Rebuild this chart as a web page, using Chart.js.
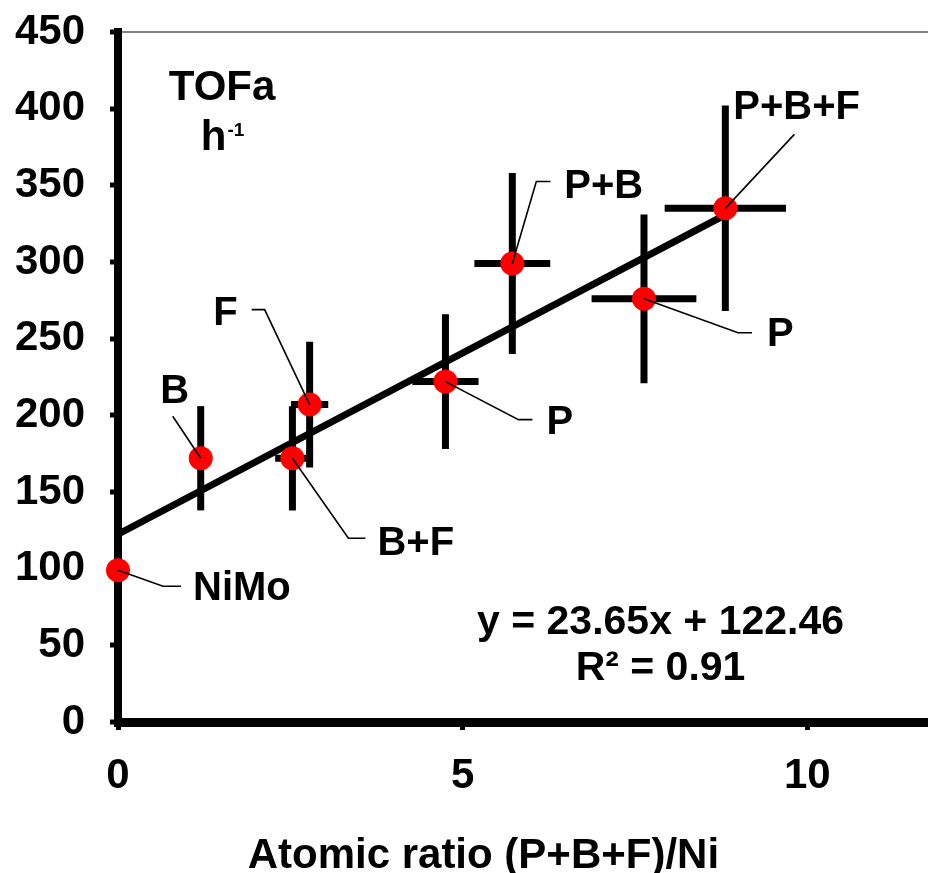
<!DOCTYPE html>
<html>
<head>
<meta charset="utf-8">
<title>TOFa vs atomic ratio</title>
<script src="https://cdn.jsdelivr.net/npm/chart.js@4.4.1/dist/chart.umd.min.js"></script>
<style>
  html, body { margin: 0; padding: 0; background: #fff; }
</style>
</head>
<body>
<canvas id="chart" width="928" height="873"></canvas>
<script>
// values
const sampleNames = ['NiMo', 'B', 'B+F', 'F', 'P', 'P+B', 'P', 'P+B+F'];
const atomicRatio = [0, 1.20, 2.53, 2.78, 4.75, 5.72, 7.63, 8.81];
const tofa = [99, 172, 172, 207, 222, 299, 276, 335];
const ratioError = [0, 0, 0.25, 0.27, 0.48, 0.55, 0.76, 0.88];
const tofaError = [0, 34, 34, 41, 44, 59, 55, 67];
const xTicks = [0, 5, 10];
const yTicks = [0, 50, 100, 150, 200, 250, 300, 350, 400, 450];
const fitSlope = 23.65;
const fitIntercept = 122.46;
const fitR2 = 0.91;
const fitRange = [0, 8.85];
const xTitle = 'Atomic ratio (P+B+F)/Ni';

const FONT = '"Liberation Sans", Arial, Helvetica, sans-serif';

// callout placement, pixel offsets from each point (same order as sampleNames)
const callouts = [
  { elbow: [45, 16], end: [63, 16], text: [75, 19], align: 'left' },
  { end: [-28, -42], text: [-26, -66], align: 'center' },
  { elbow: [56, 80], end: [73, 80], text: [85, 86], align: 'left' },
  { elbow: [-45, -95], end: [-58, -95], text: [-72, -91], align: 'right' },
  { elbow: [73, 38], end: [87, 38], text: [101, 41], align: 'left' },
  { elbow: [24, -82], end: [38, -82], text: [52, -77], align: 'left' },
  { elbow: [94, 34], end: [108, 34], text: [123, 36], align: 'left' },
  { end: [69, -74], text: [8, -100], align: 'left' }
];

const points = atomicRatio.map((r, i) => ({ x: r, y: tofa[i] }));
const fitLine = fitRange.map(r => ({ x: r, y: fitSlope * r + fitIntercept }));

const errorBars = {
  id: 'errorBars',
  beforeDatasetsDraw(chart) {
    const { ctx, scales: { x, y } } = chart;
    ctx.save();
    ctx.strokeStyle = '#000';
    ctx.lineWidth = 7;
    ctx.lineCap = 'butt';
    atomicRatio.forEach((r, i) => {
      const t = tofa[i];
      ctx.beginPath();
      if (tofaError[i] > 0) {
        ctx.moveTo(x.getPixelForValue(r), y.getPixelForValue(t - tofaError[i]));
        ctx.lineTo(x.getPixelForValue(r), y.getPixelForValue(t + tofaError[i]));
      }
      if (ratioError[i] > 0) {
        ctx.moveTo(x.getPixelForValue(r - ratioError[i]), y.getPixelForValue(t));
        ctx.lineTo(x.getPixelForValue(r + ratioError[i]), y.getPixelForValue(t));
      }
      ctx.stroke();
    });
    ctx.restore();
  }
};

const pointLabels = {
  id: 'pointLabels',
  afterDatasetsDraw(chart) {
    const { ctx } = chart;
    const meta = chart.getDatasetMeta(0);
    ctx.save();
    ctx.strokeStyle = '#000';
    ctx.fillStyle = '#000';
    ctx.lineWidth = 1.6;
    ctx.font = 'bold 40px ' + FONT;
    ctx.textBaseline = 'middle';
    meta.data.forEach((el, i) => {
      const c = callouts[i];
      ctx.beginPath();
      ctx.moveTo(el.x, el.y);
      if (c.elbow) ctx.lineTo(el.x + c.elbow[0], el.y + c.elbow[1]);
      ctx.lineTo(el.x + c.end[0], el.y + c.end[1]);
      ctx.stroke();
      ctx.textAlign = c.align;
      ctx.fillText(sampleNames[i], el.x + c.text[0], el.y + c.text[1]);
    });
    ctx.restore();
  }
};

const notes = {
  id: 'notes',
  afterDraw(chart) {
    const { ctx, scales: { x, y } } = chart;
    ctx.save();
    ctx.fillStyle = '#000';
    ctx.textBaseline = 'alphabetic';

    // y axis caption inside the plot
    const cx = x.getPixelForValue(1.51);
    ctx.font = 'bold 42px ' + FONT;
    ctx.textAlign = 'center';
    ctx.fillText('TOFa', cx, y.getPixelForValue(415.5) + 15);
    const hW = ctx.measureText('h').width;
    ctx.font = 'bold 19px ' + FONT;
    const supW = ctx.measureText('-1').width;
    const start = cx - (hW + supW) / 2;
    const base = y.getPixelForValue(383) + 15;
    ctx.textAlign = 'left';
    ctx.font = 'bold 42px ' + FONT;
    ctx.fillText('h', start, base);
    ctx.font = 'bold 19px ' + FONT;
    ctx.fillText('-1', start + hW + 1, base - 14);

    // trend line equation
    ctx.font = 'bold 41px ' + FONT;
    ctx.textAlign = 'center';
    ctx.textBaseline = 'middle';
    const ex = x.getPixelForValue(7.87);
    ctx.fillText('y = ' + fitSlope.toFixed(2) + 'x + ' + fitIntercept.toFixed(2), ex, y.getPixelForValue(65));
    ctx.fillText('R² = ' + fitR2.toFixed(2), ex, y.getPixelForValue(35));

    // x axis title, centred a little left of the plot centre as in the original
    ctx.font = 'bold 42px ' + FONT;
    ctx.fillText(xTitle, x.getPixelForValue(5.3), x.bottom - 17);
    ctx.restore();
  }
};

new Chart(document.getElementById('chart'), {
  type: 'scatter',
  data: {
    datasets: [
      {
        label: 'TOFa',
        data: points,
        backgroundColor: '#ff0000',
        borderWidth: 0,
        pointRadius: 12,
        clip: false,
        order: 0
      },
      {
        type: 'line',
        label: 'fit',
        data: fitLine,
        borderColor: '#000',
        borderWidth: 7,
        pointRadius: 0,
        fill: false,
        clip: false,
        order: 1
      }
    ]
  },
  options: {
    responsive: false,
    animation: false,
    layout: { autoPadding: false, padding: { top: 32, right: 0, bottom: 0, left: 0 } },
    plugins: {
      legend: { display: false },
      tooltip: { enabled: false }
    },
    scales: {
      x: {
        type: 'linear',
        min: 0,
        max: 11.75,
        afterBuildTicks: s => { s.ticks = xTicks.map(v => ({ value: v })); },
        afterFit: s => { s.height = 151; s.paddingLeft = 0; s.paddingRight = 0; },
        border: { color: '#000', width: 9 },
        grid: { drawOnChartArea: false, tickLength: 8, tickWidth: 5, tickColor: '#000' },
        ticks: { color: '#000', padding: 21, font: { family: FONT, size: 42, weight: 'bold' } }
      },
      y: {
        min: 0,
        max: 450,
        afterBuildTicks: s => { s.ticks = yTicks.map(v => ({ value: v })); },
        afterFit: s => { s.width = 118; s.paddingTop = 0; s.paddingBottom = 0; },
        border: { color: '#000', width: 8 },
        grid: {
          color: c => (c.tick && c.tick.value === 450 ? '#808080' : 'rgba(0,0,0,0)'),
          lineWidth: 2,
          tickLength: 8,
          tickWidth: 5,
          tickColor: '#000'
        },
        ticks: { color: '#000', padding: 25, font: { family: FONT, size: 42, weight: 'bold' } }
      }
    }
  },
  plugins: [errorBars, pointLabels, notes]
});
</script>
</body>
</html>
